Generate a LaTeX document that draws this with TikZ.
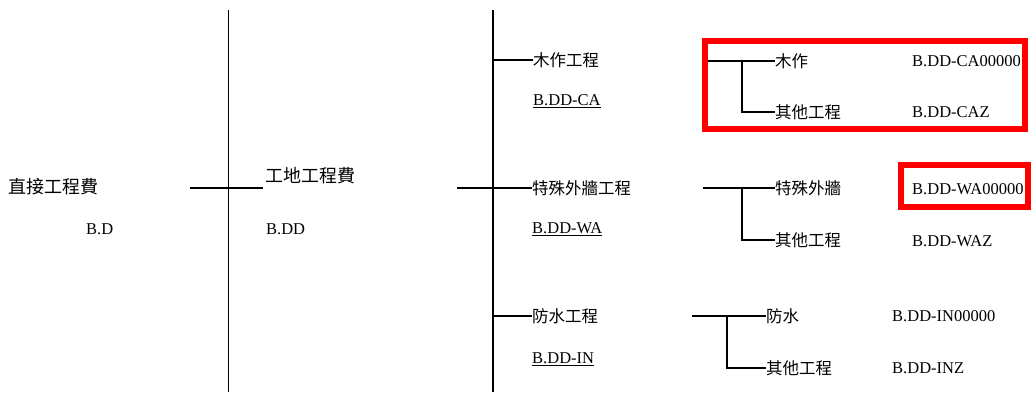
\documentclass[tikz,border=0pt]{standalone}
\usepackage{fontspec}
\setmainfont{Liberation Serif}
\newfontfamily\cjk{Noto Sans CJK TC}
\begin{document}
\begin{tikzpicture}[x=1pt,y=-1pt,
  big/.style={inner sep=0pt,anchor=west,font=\cjk\fontsize{18}{19}\selectfont},
  mid/.style={inner sep=0pt,anchor=west,font=\cjk\fontsize{16.5}{18}\selectfont},
  code/.style={inner sep=0pt,anchor=west,font=\fontsize{16.5}{18}\selectfont},
  ln/.style={line width=1.2pt},
  br/.style={line width=1.8pt},
  redbox/.style={draw=red,line width=6.5pt}]
\useasboundingbox (0,0) rectangle (1032,392);
% level 1
\node[big] (root) at (8,187) {直接工程費};
\node[code] (rootc) at (86,229) {B.D};
% level 2
\node[big] (site) at (265,176) {工地工程費};
\node[code] (sitec) at (266,229) {B.DD};
% spines
\coordinate (v1t) at (228,10); \coordinate (v1b) at (228,392);
\coordinate (v2t) at (493,10); \coordinate (v2b) at (493,392);
\draw[line width=1pt] (v1t) -- (v1b);
\draw[line width=1.8pt] (v2t) -- (v2b);
\coordinate (h1a) at (190,188); \coordinate (h1b) at (263,188);
\draw[ln] (h1a) -- (h1b);
\coordinate (h2a) at (457,188);
% level 3
\node[mid] (ca) at (533,60) {木作工程};
\node[code] (cac) at (533,101) {\underline{B.DD-CA}};
\node[mid] (wa) at (532,188) {特殊外牆工程};
\node[code] (wac) at (532,229) {\underline{B.DD-WA}};
\node[mid] (in) at (532,316) {防水工程};
\node[code] (inc) at (532,359) {\underline{B.DD-IN}};
\draw[ln] (v2t |- ca.west) -- (ca.west);
\draw[ln] (h2a) -- (wa.west);
\draw[ln] (v2t |- in.west) -- (in.west);
% level 4 : CA
\node[mid] (ca1) at (775,61) {木作};
\node[mid] (ca2) at (775,112) {其他工程};
\node[code] (ca1c) at (912,61) {B.DD-CA00000};
\node[code] (ca2c) at (912,112) {B.DD-CAZ};
\coordinate (caa) at (708,61); \coordinate (cav) at (742,61);
\draw[ln] (caa) -- (ca1.west);
\draw[br] (cav) -- (cav |- ca2.west) -- (ca2.west);
\coordinate (cab1) at (705,41); \coordinate (cab2) at (1025,129);
\draw[redbox] (cab1) rectangle (cab2);
% level 4 : WA
\node[mid] (wa1) at (775,188) {特殊外牆};
\node[mid] (wa2) at (775,240) {其他工程};
\node[code] (wa1c) at (912,189) {B.DD-WA00000};
\node[code] (wa2c) at (912,241) {B.DD-WAZ};
\coordinate (waa) at (703,188); \coordinate (wav) at (742,188);
\draw[ln] (waa) -- (wa1.west);
\draw[br] (wav) -- (wav |- wa2.west) -- (wa2.west);
\coordinate (wab1) at (901,165); \coordinate (wab2) at (1028,207);
\draw[redbox] (wab1) rectangle (wab2);
% level 4 : IN
\node[mid] (in1) at (766,316) {防水};
\node[mid] (in2) at (766,368) {其他工程};
\node[code] (in1c) at (892,316) {B.DD-IN00000};
\node[code] (in2c) at (892,368) {B.DD-INZ};
\coordinate (ina) at (692,316); \coordinate (inv) at (727,316);
\draw[ln] (ina) -- (in1.west);
\draw[br] (inv) -- (inv |- in2.west) -- (in2.west);
\end{tikzpicture}
\end{document}
